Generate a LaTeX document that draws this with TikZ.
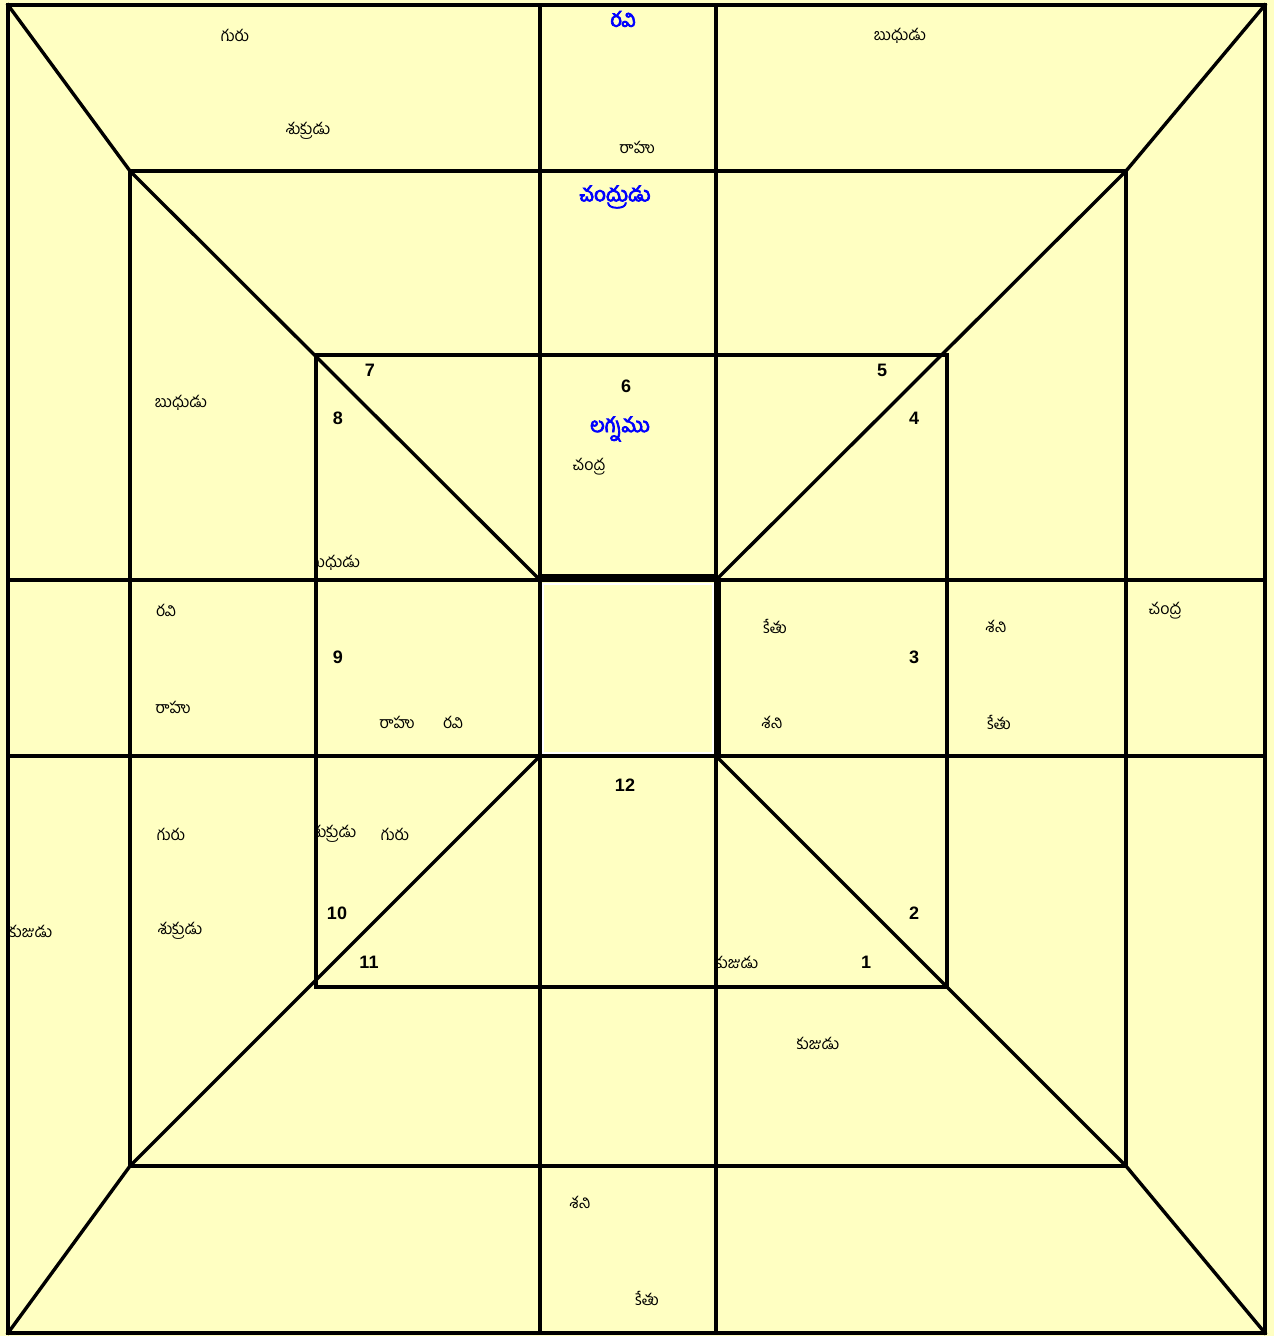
\documentclass[tikz,border=0pt]{standalone}
\usepackage{fontspec}
\setmainfont{Liberation Sans}
\newfontfamily\te[Script=Telugu]{Hind Guntur}
\newfontfamily\tebf[Script=Telugu,FakeBold=3.5]{Hind Guntur}
\definecolor{bgy}{RGB}{255,255,194}
\definecolor{tblue}{RGB}{0,0,255}
\tikzset{
  grid/.style={line width=3.4pt, line join=miter, line cap=rect},
  pl/.style={font=\te\fontsize{16}{16}\selectfont, inner sep=0pt, anchor=center},
  bl/.style={font=\tebf\fontsize{20.5}{20.5}\selectfont, text=tblue, inner sep=0pt, anchor=center},
  num/.style={font=\bfseries\fontsize{18}{18}\selectfont, inner sep=0pt, anchor=center}
}
\begin{document}
\begin{tikzpicture}[x=1pt,y=-1pt]
\fill[bgy] (0,0) rectangle (1274,1336);
\useasboundingbox (0,0) rectangle (1274,1336);
% coordinates
\coordinate (O1) at (8,5); \coordinate (O2) at (1265,5);
\coordinate (O3) at (1265,1333); \coordinate (O4) at (8,1333);
\coordinate (M1) at (130,171); \coordinate (M2) at (1126,171);
\coordinate (M3) at (1126,1166); \coordinate (M4) at (130,1166);
\coordinate (C1) at (540,580); \coordinate (C2) at (716,580);
\coordinate (C3) at (716,756); \coordinate (C4) at (540,756);
% texts
\node[pl] (t1) at (235,35) {గురు};
\node[pl] (t2) at (308,131) {శుక్రుడు};
\node[bl] (t3) at (623,19) {రవి};
\node[pl] (t4) at (637,147) {రాహు};
\node[pl] (t5) at (900,36) {బుధుడు};
\node[bl] (t6) at (615,197) {చంద్రుడు};
\node[pl] (t7) at (181,403) {బుధుడు};
\node[num] (n7) at (370,370) {7};
\node[num] (n8) at (338,418) {8};
\node[num] (n6) at (626,386) {6};
\node[bl] (t8) at (620,429) {లగ్నము};
\node[pl] (t9) at (589,467) {చంద్ర};
\node[num] (n5) at (882,370) {5};
\node[num] (n4) at (914,418) {4};
\begin{scope}
\clip (317,540) rectangle (540,578);
\node[pl] (t10) at (334,563) {బుధుడు};
\end{scope}
\node[pl] (t11) at (166,610) {రవి};
\node[pl] (t12) at (173,707) {రాహు};
\node[num] (n9) at (338,657) {9};
\node[pl] (t13) at (397,722) {రాహు};
\node[pl] (t14) at (453,722) {రవి};
\node[pl] (t15) at (775,626) {కేతు};
\node[num] (n3) at (914,657) {3};
\node[pl] (t16) at (772,722) {శని};
\node[pl] (t17) at (996,626) {శని};
\node[pl] (t18) at (999,722) {కేతు};
\node[pl] (t19) at (1165,611) {చంద్ర};
\node[num] (n12) at (625,785) {12};
\node[pl] (t20) at (171,834) {గురు};
\begin{scope}
\clip (317,810) rectangle (540,860);
\node[pl] (t21) at (334,834) {శుక్రుడు};
\end{scope}
\node[pl] (t22) at (395,834) {గురు};
\node[num] (n10) at (337,913) {10};
\node[num] (n11) at (369,962) {11};
\node[pl] (t23) at (180,931) {శుక్రుడు};
\begin{scope}
\clip (9,900) rectangle (130,960);
\node[pl] (t24) at (31,931) {కుజుడు};
\end{scope}
\begin{scope}
\clip (717,940) rectangle (947,985);
\node[pl] (t25) at (737,962) {కుజుడు};
\end{scope}
\node[num] (n1) at (866,962) {1};
\node[num] (n2) at (914,913) {2};
\node[pl] (t26) at (818,1043) {కుజుడు};
\node[pl] (t27) at (580,1202) {శని};
\node[pl] (t28) at (647,1298) {కేతు};
% lines
\draw[grid] (O1) rectangle (O3);
\draw[grid] (M1) rectangle (M3);
\draw[grid] (316,355) rectangle (947,987);
\draw[grid] (540,5) -- (540,1333);
\draw[grid] (716,5) -- (716,1333);
\draw[grid] (8,580) -- (1265,580);
\draw[grid] (8,756) -- (1262,756);
\draw[grid] (O1) -- (M1) -- (C1);
\draw[grid] (O2) -- (M2) -- (C2);
\draw[grid] (O4) -- (M4) -- (C4);
\draw[grid] (O3) -- (M3) -- (C3);
% centre square
\fill[bgy] (542,583) rectangle (714,754);
\draw[white, line width=1.5pt] (543,584) rectangle (713,753);
\draw[line width=8pt] (538,578) -- (718,578);
\draw[line width=7pt] (717,578) -- (717,756);
\end{tikzpicture}
\end{document}
